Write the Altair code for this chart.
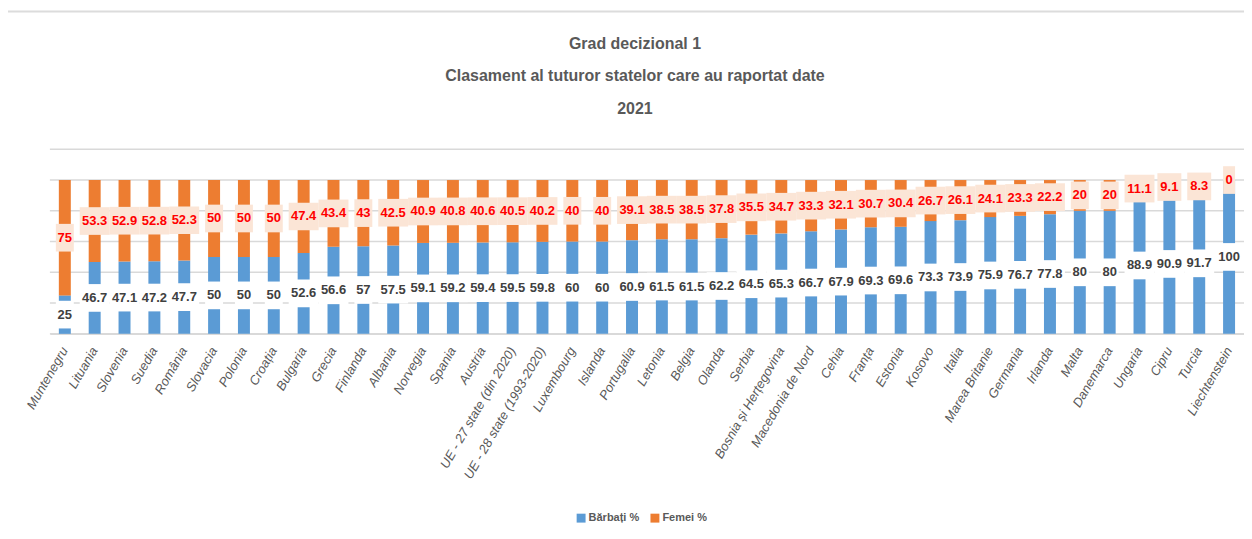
import altair as alt
import pandas as pd

countries = ["Muntenegru", "Lituania", "Slovenia", "Suedia", "România", "Slovacia", "Polonia",
             "Croația", "Bulgaria", "Grecia", "Finlanda", "Albania", "Norvegia", "Spania", "Austria",
             "UE - 27 state (din 2020)", "UE - 28 state (1993-2020)", "Luxembourg", "Islanda",
             "Portugalia", "Letonia", "Belgia", "Olanda", "Serbia", "Bosnia și Herțegovina",
             "Macedonia de Nord", "Cehia", "Franța", "Estonia", "Kosovo", "Italia", "Marea Britanie",
             "Germania", "Irlanda", "Malta", "Danemarca", "Ungaria", "Cipru", "Turcia", "Liechtenstein"]
men = [25, 46.7, 47.1, 47.2, 47.7, 50, 50, 50, 52.6, 56.6, 57, 57.5, 59.1, 59.2, 59.4, 59.5, 59.8,
       60, 60, 60.9, 61.5, 61.5, 62.2, 64.5, 65.3, 66.7, 67.9, 69.3, 69.6, 73.3, 73.9, 75.9, 76.7,
       77.8, 80, 80, 88.9, 90.9, 91.7, 100]
women = [75, 53.3, 52.9, 52.8, 52.3, 50, 50, 50, 47.4, 43.4, 43, 42.5, 40.9, 40.8, 40.6, 40.5, 40.2,
         40, 40, 39.1, 38.5, 38.5, 37.8, 35.5, 34.7, 33.3, 32.1, 30.7, 30.4, 26.7, 26.1, 24.1, 23.3,
         22.2, 20, 20, 11.1, 9.1, 8.3, 0]
grid_values = [0, 20, 40, 60, 80, 100, 120]
series = ["Bărbați %", "Femei %"]
colors = ["#5B9BD5", "#ED7D31"]

FONT = "Liberation Sans"

rows = []
for c, m, w in zip(countries, men, women):
    rows.append({"country": c, "series": series[0], "value": m, "ord": 0})
    rows.append({"country": c, "series": series[1], "value": w, "ord": 1})
long_df = pd.DataFrame(rows)

lab = pd.DataFrame({"country": countries, "men": men, "women": women})
lab["men_lab"] = [f"{v:g}" for v in men]
lab["women_lab"] = [f"{v:g}" for v in women]

y_scale = alt.Scale(domain=[0, 120], nice=False)

grid = alt.Chart(pd.DataFrame({"g": grid_values})).mark_rule(
    color="#d9d9d9", strokeWidth=1.5).encode(
    y=alt.Y("g:Q", scale=y_scale, axis=None))

frame_top = alt.Chart(pd.DataFrame({"g": [0]})).mark_rule(color="#dcdcdc", strokeWidth=2).encode(
    x=alt.value(-43), x2=alt.value(1200), y=alt.value(-138))
frame_left = alt.Chart(pd.DataFrame({"g": [0]})).mark_rule(color="#dcdcdc", strokeWidth=2).encode(
    x=alt.value(-43), y=alt.value(-138), y2=alt.value(390))

x_enc = alt.X("country:N", sort=countries, title=None,
              scale=alt.Scale(paddingInner=0, paddingOuter=0),
              axis=alt.Axis(labelAngle=-60, labelAlign="right", labelBaseline="middle",
                            labelPadding=14, labelFontSize=13, labelFontStyle="italic",
                            labelFont=FONT, labelColor="#595959", labelLimit=300,
                            ticks=False, domainColor="#d9d9d9", domainWidth=1.5))

bars = alt.Chart(long_df).mark_bar(size=12).encode(
    x=x_enc,
    y=alt.Y("value:Q", stack="zero", scale=y_scale, title=None, axis=None),
    color=alt.Color("series:N", scale=alt.Scale(domain=series, range=colors),
                    legend=alt.Legend(title=None, orient="none", direction="horizontal",
                                      legendX=527, legendY=364, symbolType="square",
                                      symbolSize=80, symbolStrokeWidth=0, labelFontSize=11,
                                      labelFont=FONT, labelFontWeight="bold",
                                      labelColor="#595959", columnPadding=10, labelOffset=2)),
    order=alt.Order("ord:Q"),
)

base = alt.Chart(lab).transform_calculate(
    mc="datum.men / 2",
    wc="datum.men + datum.women / 2",
    m0="datum.men / 2 - 9", m1="datum.men / 2 + 9",
    w0="datum.men + datum.women / 2 - 9", w1="datum.men + datum.women / 2 + 9",
    mw="6 + 6 * length(datum.men_lab)",
    ww="6 + 6 * length(datum.women_lab)",
)

men_box = base.mark_bar(color="white").encode(
    x=alt.X("country:N", sort=countries),
    y=alt.Y("m0:Q", scale=y_scale), y2="m1:Q",
    size=alt.Size("mw:Q", scale=None, legend=None),
)
men_txt = base.mark_text(font=FONT, fontSize=13, fontWeight="bold", color="#404040").encode(
    x=alt.X("country:N", sort=countries),
    y=alt.Y("mc:Q", scale=y_scale),
    text="men_lab:N",
)
women_box = base.mark_bar(color="#FBE5D6").encode(
    x=alt.X("country:N", sort=countries),
    y=alt.Y("w0:Q", scale=y_scale), y2="w1:Q",
    size=alt.Size("ww:Q", scale=None, legend=None),
)
women_txt = base.mark_text(font=FONT, fontSize=13, fontWeight="bold", color="#FF0000").encode(
    x=alt.X("country:N", sort=countries),
    y=alt.Y("wc:Q", scale=y_scale),
    text="women_lab:N",
)

chart = alt.layer(frame_top, frame_left, grid, bars, men_box, men_txt, women_box, women_txt).properties(
    width=1197, height=185,
    autosize=alt.AutoSizeParams(type="none"),
    padding={"left": 42, "top": 141, "right": 0, "bottom": 190},
    title=alt.TitleParams(
        text=["Grad decizional 1", "Clasament al tuturor statelor care au raportat date", "2021"],
        font=FONT, fontSize=16, fontWeight="bold", color="#595959",
        lineHeight=33, anchor="middle", offset=-107, dx=-12),
    background="white",
).configure_view(stroke=None)

chart.save("out.html", embed_options={"renderer": "svg", "actions": False})
